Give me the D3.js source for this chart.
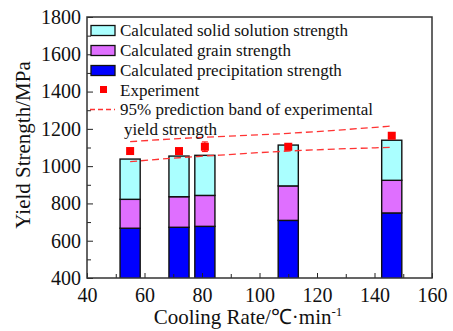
<!DOCTYPE html>
<html>
<head>
<meta charset="utf-8">
<script src="https://cdn.jsdelivr.net/npm/d3@7"></script>
</head>
<body style="margin:0">
<svg id="fig" width="453" height="331"></svg>
<script>
// cooling rates (℃/min) of the five samples
var coolingRates = [55, 72, 81, 110, 146];
// strength contributions, MPa
var precipitation = [667, 672, 677, 709, 749];
var grain = [155, 164, 166, 185, 175];
var solidSolution = [216, 218, 215, 219, 215];
// measured yield strength
var experiment = [1081, 1081, 1104, 1104, 1163];
var experimentErr = [0, 0, 26, 0, 0];
// 95% prediction band
var bandUpper = [1131, 1148, 1155, 1176, 1215];
var bandLower = [1024, 1045, 1054, 1081, 1101];

var xTicks = [40, 60, 80, 100, 120, 140, 160];
var yTicks = [400, 600, 800, 1000, 1200, 1400, 1600, 1800];

var keys = ["precipitation", "grain", "solid"];
var colors = { precipitation: "#0000ff", grain: "#df6fff", solid: "#aaffff" };
var legendLabels = {
    solid: "Calculated solid solution strength",
    grain: "Calculated grain strength",
    precipitation: "Calculated precipitation strength"
};

var barWidth = 7; // in cooling-rate units
var serif = "\"Liberation Serif\"";

var margin = { left: 87, right: 21, top: 17, bottom: 53 };
var W = 453, H = 331;

var svg = d3.select("#fig");

var x = d3.scaleLinear().domain([40, 160]).range([margin.left, W - margin.right]);
var y = d3.scaleLinear().domain([400, 1800]).range([H - margin.bottom, margin.top]);

// table for d3.stack
var rows = coolingRates.map(function(r, i) {
    return { rate: r, precipitation: precipitation[i], grain: grain[i], solid: solidSolution[i] };
});
var stacked = d3.stack().keys(keys)(rows);

svg.append("clipPath").attr("id", "plotclip")
    .append("rect")
    .attr("x", margin.left).attr("y", margin.top)
    .attr("width", W - margin.left - margin.right)
    .attr("height", H - margin.top - margin.bottom);

var plot = svg.append("g").attr("clip-path", "url(#plotclip)");

// bars
stacked.forEach(function(layer) {
    plot.append("g").selectAll("rect")
        .data(layer)
        .enter().append("rect")
        .attr("x", function(d) { return x(d.data.rate - barWidth / 2); })
        .attr("width", function(d) { return x(d.data.rate + barWidth / 2) - x(d.data.rate - barWidth / 2); })
        .attr("y", function(d) { return y(d[1]); })
        .attr("height", function(d) { return y(d[0]) - y(d[1]); })
        .attr("fill", colors[layer.key])
        .attr("stroke", "#111")
        .attr("stroke-width", 1.4);
});

// prediction band
var bandLine = d3.line()
    .x(function(d) { return x(d[0]); })
    .y(function(d) { return y(d[1]); })
    .curve(d3.curveMonotoneX);

[bandUpper, bandLower].forEach(function(b) {
    plot.append("path")
        .datum(coolingRates.map(function(r, i) { return [r, b[i]]; }))
        .attr("d", bandLine)
        .attr("fill", "none")
        .attr("stroke", "#ff3333")
        .attr("stroke-width", 1.3)
        .attr("stroke-dasharray", "7,4");
});

// experiment points with error bars
var pts = plot.append("g").selectAll("g")
    .data(coolingRates.map(function(r, i) { return { r: r, v: experiment[i], e: experimentErr[i] }; }))
    .enter().append("g");

pts.filter(function(d) { return d.e > 0; }).each(function(d) {
    var g = d3.select(this);
    g.append("line")
        .attr("x1", x(d.r)).attr("x2", x(d.r))
        .attr("y1", y(d.v + d.e)).attr("y2", y(d.v - d.e))
        .attr("stroke", "#ff0000").attr("stroke-width", 1);
    [d.v + d.e, d.v - d.e].forEach(function(v) {
        g.append("line")
            .attr("x1", x(d.r) - 3).attr("x2", x(d.r) + 3)
            .attr("y1", y(v)).attr("y2", y(v))
            .attr("stroke", "#ff0000").attr("stroke-width", 1);
    });
});

pts.append("rect")
    .attr("x", function(d) { return x(d.r) - 4; })
    .attr("y", function(d) { return y(d.v) - 4; })
    .attr("width", 8).attr("height", 8)
    .attr("fill", "#ff0000");

// axes
svg.append("g")
    .attr("transform", "translate(0," + (H - margin.bottom) + ")")
    .call(d3.axisBottom(x).tickValues(xTicks).tickSize(-5).tickPadding(10).tickFormat(d3.format("d")));
svg.append("g")
    .attr("transform", "translate(0," + (H - margin.bottom) + ")")
    .call(d3.axisBottom(x).tickValues(d3.range(50, 160, 20)).tickSize(-4).tickFormat(""));

svg.append("g")
    .attr("transform", "translate(" + margin.left + ",0)")
    .call(d3.axisLeft(y).tickValues(yTicks).tickSize(-6).tickPadding(6).tickFormat(d3.format("d")));
svg.append("g")
    .attr("transform", "translate(" + margin.left + ",0)")
    .call(d3.axisLeft(y).tickValues(d3.range(500, 1800, 200)).tickSize(-4).tickFormat(""));

svg.selectAll(".domain").remove();
svg.selectAll("g").attr("font-family", null);
svg.selectAll(".tick text")
    .style("font-family", serif, "important")
    .style("font-size", "20px")
    .attr("fill", "#111");
svg.selectAll(".tick line").attr("stroke", "#222").attr("stroke-width", 1);

// frame
svg.append("rect")
    .attr("x", margin.left).attr("y", margin.top)
    .attr("width", W - margin.left - margin.right)
    .attr("height", H - margin.top - margin.bottom)
    .attr("fill", "none")
    .attr("stroke", "#333")
    .attr("stroke-width", 1.5);

function label(sel, size) {
    return sel.style("font-family", serif, "important").style("font-size", size + "px").attr("fill", "#111");
}

// axis titles
label(svg.append("text"), 21)
    .attr("transform", "translate(30," + 145 + ") rotate(-90)")
    .attr("text-anchor", "middle")
    .text("Yield Strength/MPa");

var xt = label(svg.append("text"), 21)
    .attr("x", 248).attr("y", 324)
    .attr("text-anchor", "middle");
xt.append("tspan").text("Cooling Rate/℃·min");
xt.append("tspan").attr("dy", -8).style("font-size", "13px").text("-1");

// legend
var legend = svg.append("g");
var legendRows = ["solid", "grain", "precipitation"];
legendRows.forEach(function(k, i) {
    var cy = 30.5 + i * 20;
    legend.append("rect")
        .attr("x", 91).attr("y", cy - 5).attr("width", 24).attr("height", 10)
        .attr("fill", colors[k]).attr("stroke", "#111").attr("stroke-width", 1.3);
    label(legend.append("text"), 17).attr("x", 120).attr("y", cy + 5.5).text(legendLabels[k]);
});
legend.append("rect").attr("x", 100).attr("y", 86).attr("width", 7).attr("height", 7).attr("fill", "#ff0000");
label(legend.append("text"), 17).attr("x", 120).attr("y", 95.5).text("Experiment");
legend.append("line")
    .attr("x1", 90).attr("x2", 115).attr("y1", 109.5).attr("y2", 109.5)
    .attr("stroke", "#ff3333").attr("stroke-width", 1.3).attr("stroke-dasharray", "5,3");
label(legend.append("text"), 17).attr("x", 120).attr("y", 115).text("95% prediction band of experimental");
label(legend.append("text"), 17).attr("x", 124).attr("y", 135).text("yield strength");
</script>
</body>
</html>
